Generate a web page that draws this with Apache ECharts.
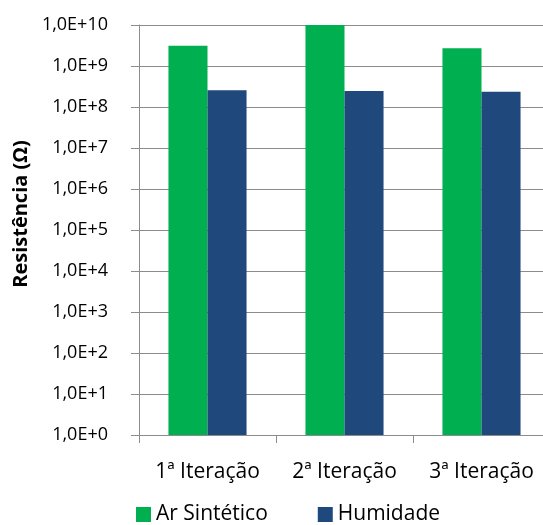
<!DOCTYPE html>
<html>
<head>
<meta charset="utf-8">
<script src="https://cdn.jsdelivr.net/npm/echarts@6/dist/echarts.min.js"></script>
<style>html,body{margin:0;padding:0;background:#fff}#c{width:543px;height:525px}</style>
</head>
<body>
<div id="c"></div>
<script>
var categories = ['1ª Iteração', '2ª Iteração', '3ª Iteração'];
var arSintetico = [3.1e9, 1.0e10, 2.7e9];
var humidade = [2.55e8, 2.45e8, 2.35e8];
var seriesNames = ['Ar Sintético', 'Humidade'];
var yAxisTitle = 'Resistência (Ω)';

var FONT = 'Open Sans';
var chart = echarts.init(document.getElementById('c'), null, {renderer: 'canvas'});
chart.setOption({
  animation: false,
  textStyle: {fontFamily: FONT},
  grid: {left: 139, top: 25, width: 411, bottom: 90, containLabel: false, outerBoundsMode: 'none'},
  legend: {
    top: 499, left: 131,
    itemWidth: 15, itemHeight: 15, itemGap: 50,
    icon: 'rect',
    textStyle: {fontFamily: FONT, fontSize: 21, color: '#000', padding: [0, 0, 0, 0]},
    data: seriesNames
  },
  xAxis: {
    type: 'category',
    data: categories,
    axisLine: {lineStyle: {color: '#8c8c8c', width: 1}},
    axisTick: {show: true, length: 8, lineStyle: {color: '#8c8c8c'}},
    axisLabel: {fontFamily: FONT, fontSize: 21, color: '#000', margin: 27, interval: 0, hideOverlap: false}
  },
  yAxis: {
    type: 'log', logBase: 10, min: 1, max: 1e10, interval: 1, splitNumber: 10,
    name: yAxisTitle, nameLocation: 'middle', nameGap: 94, nameRotate: 90,
    nameTextStyle: {fontFamily: FONT, fontSize: 20, fontWeight: 'bold', color: '#000', padding: [0, 0, 0, 32]},
    axisLine: {show: true, lineStyle: {color: '#8c8c8c'}},
    axisTick: {show: true, length: 8, lineStyle: {color: '#8c8c8c'}},
    splitLine: {show: true, lineStyle: {color: '#8c8c8c', width: 1}},
    axisLabel: {
      fontFamily: FONT, fontSize: 18, color: '#000', margin: 31,
      formatter: function (v) { return '1,0E+' + Math.round(Math.log10(v)); }
    }
  },
  series: [
    {name: seriesNames[0], type: 'bar', data: arSintetico, barGap: '0%', barCategoryGap: '43%',
     itemStyle: {color: '#00B050'}},
    {name: seriesNames[1], type: 'bar', data: humidade, barGap: '0%', barCategoryGap: '43%',
     itemStyle: {color: '#1F497D'}}
  ]
});
</script>
</body>
</html>
